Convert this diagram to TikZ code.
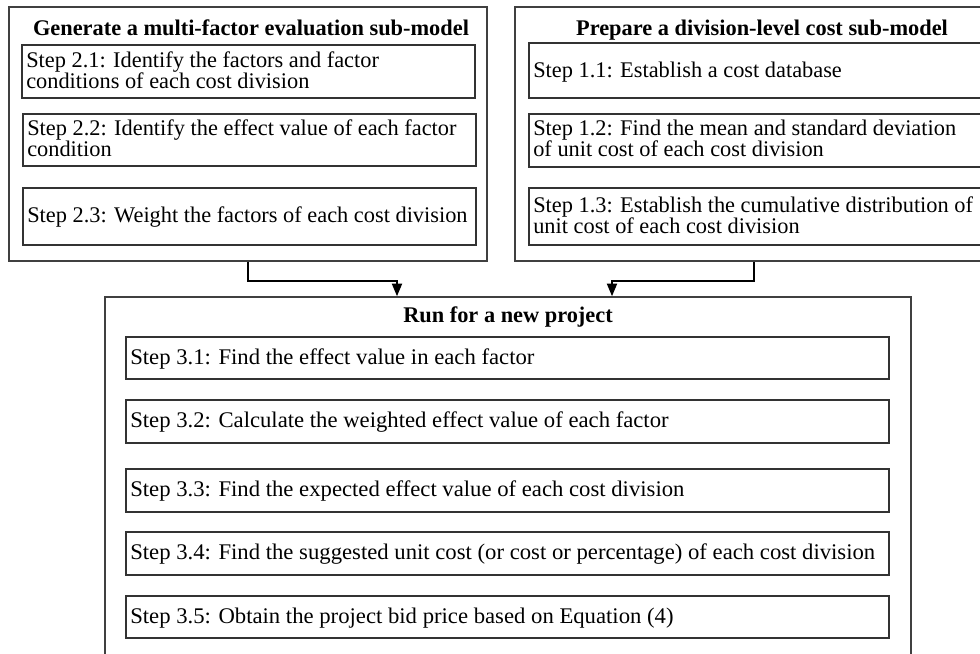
\documentclass[tikz,border=0pt]{standalone}
\usepackage{fontspec}
\setmainfont{Liberation Serif}
\usetikzlibrary{arrows.meta}
\begin{document}
\begin{tikzpicture}[x=0.025cm,y=-0.025cm,
  outer/.style={draw=black!75,line width=1pt,inner sep=0pt},
  stepbox/.style={draw=black!80,line width=0.85pt,inner sep=0pt},
  txt/.style={anchor=base west,inner sep=0pt,font=\fontsize{15.9}{14.9}\selectfont,align=left},
  btxt/.style={txt,xscale=1.015},
  ttl/.style={anchor=base,inner sep=0pt,font=\fontsize{15.9}{14.9}\selectfont\bfseries},
  arr/.style={line width=1.6pt,black,-{Triangle[length=3.2mm,width=2.5mm]}}]
\useasboundingbox (0,0) rectangle (980,653);
\clip (0,0) rectangle (980,653);
\fill[white] (0,0) rectangle (980,653);
% top-left group
\node[outer,minimum width=478*0.025cm,minimum height=254*0.025cm] (TL) at (248,134) {};
\node[ttl] (TLt) at (251,35) {Generate a multi-factor evaluation sub-model};
\node[stepbox,minimum width=453*0.025cm,minimum height=53*0.025cm] (s21) at (248.5,71.5) {};
\node[txt] (s21t) at (26,88) {Step 2.1: Identify the factors and factor\\conditions of each cost division};
\node[stepbox,minimum width=453*0.025cm,minimum height=52*0.025cm] (s22) at (249.5,140) {};
\node[txt] (s22t) at (27,156) {Step 2.2: Identify the effect value of each factor\\condition};
\node[stepbox,minimum width=453*0.025cm,minimum height=57*0.025cm] (s23) at (249.5,216.5) {};
\node[txt] (s23t) at (27,222) {Step 2.3: Weight the factors of each cost division};
% top-right group
\node[outer,minimum width=495*0.025cm,minimum height=254*0.025cm] (TR) at (762.5,134) {};
\node[ttl] (TRt) at (762,35) {Prepare a division-level cost sub-model};
\node[stepbox,minimum width=470*0.025cm,minimum height=55*0.025cm] (s11) at (764,70.5) {};
\node[txt] (s11t) at (533,77) {Step 1.1: Establish a cost database};
\node[stepbox,minimum width=470*0.025cm,minimum height=53*0.025cm] (s12) at (764,140.5) {};
\node[txt] (s12t) at (533,156) {Step 1.2: Find the mean and standard deviation\\of unit cost of each cost division};
\node[stepbox,minimum width=470*0.025cm,minimum height=57*0.025cm] (s13) at (764,216.5) {};
\node[txt] (s13t) at (533,233) {Step 1.3: Establish the cumulative distribution of\\unit cost of each cost division};
% bottom group
\node[outer,minimum width=806*0.025cm,minimum height=380*0.025cm] (RUN) at (508,487) {};
\node[ttl] (RUNt) at (508,322) {Run for a new project};
\node[stepbox,minimum width=763*0.025cm,minimum height=42*0.025cm] (s31) at (507.5,358) {};
\node[btxt] (s31t) at (130,364) {Step 3.1: Find the effect value in each factor};
\node[stepbox,minimum width=763*0.025cm,minimum height=43*0.025cm] (s32) at (507.5,421.5) {};
\node[btxt] (s32t) at (130,427) {Step 3.2: Calculate the weighted effect value of each factor};
\node[stepbox,minimum width=763*0.025cm,minimum height=43*0.025cm] (s33) at (507.5,490.5) {};
\node[btxt] (s33t) at (130,496) {Step 3.3: Find the expected effect value of each cost division};
\node[stepbox,minimum width=763*0.025cm,minimum height=43*0.025cm] (s34) at (507.5,553.5) {};
\node[btxt] (s34t) at (130,559) {Step 3.4: Find the suggested unit cost (or cost or percentage) of each cost division};
\node[stepbox,minimum width=763*0.025cm,minimum height=42*0.025cm] (s35) at (507.5,617) {};
\node[btxt] (s35t) at (130,623) {Step 3.5: Obtain the project bid price based on Equation (4)};
% connectors
\coordinate (la) at (248,0);
\coordinate (lb) at (397,281);
\coordinate (ra) at (754,0);
\coordinate (rb) at (612,281);
\draw[arr] (TL.south -| la) |- (lb) -- (lb |- RUN.north);
\draw[arr] (TR.south -| ra) |- (rb) -- (rb |- RUN.north);
\end{tikzpicture}
\end{document}
